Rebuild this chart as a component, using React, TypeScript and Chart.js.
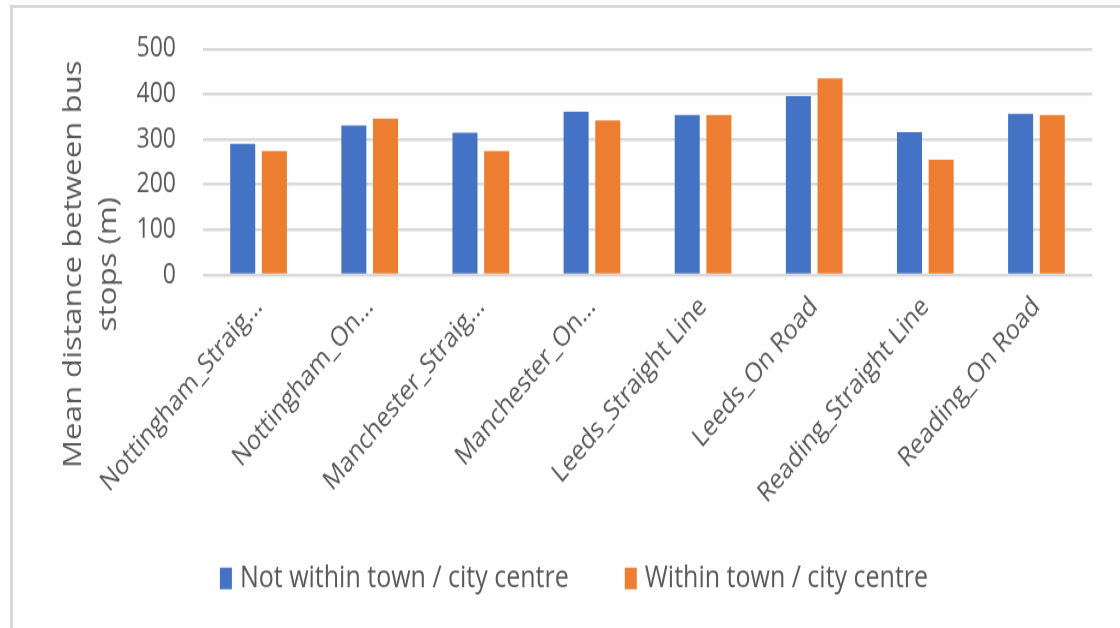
import React, { useEffect, useRef } from "react";
import { Chart, registerables } from "chart.js";

Chart.register(...registerables);

const categories = [
  "Nottingham_Straig...",
  "Nottingham_On...",
  "Manchester_Straig...",
  "Manchester_On...",
  "Leeds_Straight Line",
  "Leeds_On Road",
  "Reading_Straight Line",
  "Reading_On Road",
];
const notWithinCentre = [290, 331, 315, 361, 354, 396, 316, 357];
const withinCentre = [274, 346, 274, 342, 354, 435, 255, 354];
const seriesLabels = ["Not within town / city centre", "Within town / city centre"];
const seriesColors = ["#4472C4", "#ED7D31"];
const yTitleLines = ["Mean distance between bus", "stops (m)"];
const yMin = 0;
const yMax = 500;
const yStep = 100;

const W = 1120;
const H = 523;
const SY = 628 / 523;
const TEXT = "#595959";
const FONT = "'Open Sans', 'Noto Sans', sans-serif";

export default function App() {
  const ref = useRef<HTMLCanvasElement>(null);

  useEffect(() => {
    document.body.style.margin = "0";

    const yTitlePlugin = {
      id: "yTitlePlugin",
      afterDraw(chart: any) {
        const ctx = chart.ctx as CanvasRenderingContext2D;
        ctx.save();
        ctx.fillStyle = TEXT;
        ctx.font = `26px ${FONT}`;
        ctx.textAlign = "center";
        ctx.textBaseline = "middle";
        const cy = 220;
        const xs = [74, 109];
        yTitleLines.forEach((line, i) => {
          ctx.save();
          ctx.translate(xs[i], cy);
          ctx.rotate(-Math.PI / 2);
          ctx.fillText(line, 0, 0);
          ctx.restore();
        });
        ctx.restore();
      },
    };

    const legendPlugin = {
      id: "bottomLegend",
      afterDraw(chart: any) {
        const ctx = chart.ctx as CanvasRenderingContext2D;
        const ds = chart.data.datasets;
        ctx.save();
        ctx.font = `25px ${FONT}`;
        ctx.textBaseline = "middle";
        ctx.textAlign = "left";
        const boxW = 12;
        const boxH = 18;
        const gap = 8;
        const itemGap = 56;
        const widths = ds.map((d: any) => boxW + gap + ctx.measureText(d.label).width);
        const total = widths.reduce((a: number, b: number) => a + b, 0) + itemGap * (ds.length - 1);
        const cy = 481.7;
        let x = 574 - total / 2;
        ds.forEach((d: any, i: number) => {
          ctx.fillStyle = d.backgroundColor;
          ctx.fillRect(x, cy - boxH / 2, boxW, boxH);
          ctx.fillStyle = TEXT;
          ctx.fillText(d.label, x + boxW + gap, cy);
          x += widths[i] + itemGap;
        });
        ctx.restore();
      },
    };

    const chart = new Chart(ref.current as HTMLCanvasElement, {
      type: "bar",
      data: {
        labels: categories,
        datasets: [
          {
            label: seriesLabels[0],
            data: notWithinCentre,
            backgroundColor: seriesColors[0],
            borderWidth: 0,
            categoryPercentage: 0.57,
            barPercentage: 0.79,
          },
          {
            label: seriesLabels[1],
            data: withinCentre,
            backgroundColor: seriesColors[1],
            borderWidth: 0,
            categoryPercentage: 0.57,
            barPercentage: 0.79,
          },
        ],
      },
      options: {
        responsive: false,
        animation: false,
        layout: { padding: { left: 56, right: 28, top: 35, bottom: 0 } },
        plugins: {
          legend: { display: false },
          tooltip: { enabled: false },
        },
        scales: {
          x: {
            grid: { display: false, drawTicks: false },
            border: { display: false },
            ticks: {
              color: TEXT,
              font: { family: FONT, size: 23 },
              maxRotation: 45,
              minRotation: 45,
              padding: 13,
              autoSkip: false,
            },
            afterFit: (s: any) => {
              s.height = H - 229;
            },
          },
          y: {
            min: yMin,
            max: yMax,
            ticks: {
              stepSize: yStep,
              color: TEXT,
              font: { family: FONT, size: 23 },
              padding: 27,
            },
            grid: { color: "#d9d9d9", lineWidth: 2.5, drawTicks: false },
            border: { display: false },
            afterFit: (s: any) => {
              s.width = 147;
            },
          },
        },
      },
      plugins: [yTitlePlugin, legendPlugin],
    });
    return () => chart.destroy();
  }, []);

  return (
    <div style={{ position: "relative", width: 1120, height: 628, overflow: "hidden", background: "#fff" }}>
      <div
        style={{
          position: "absolute",
          left: 10,
          top: 5,
          right: -10,
          bottom: -10,
          borderLeft: "3px solid #d9d9d9",
          borderTop: "3px solid #d9d9d9",
        }}
      />
      <canvas
        ref={ref}
        width={W}
        height={H}
        style={{
          position: "absolute",
          left: 0,
          top: 0,
          width: W,
          height: H,
          transform: `scaleY(${SY})`,
          transformOrigin: "0 0",
        }}
      />
    </div>
  );
}
